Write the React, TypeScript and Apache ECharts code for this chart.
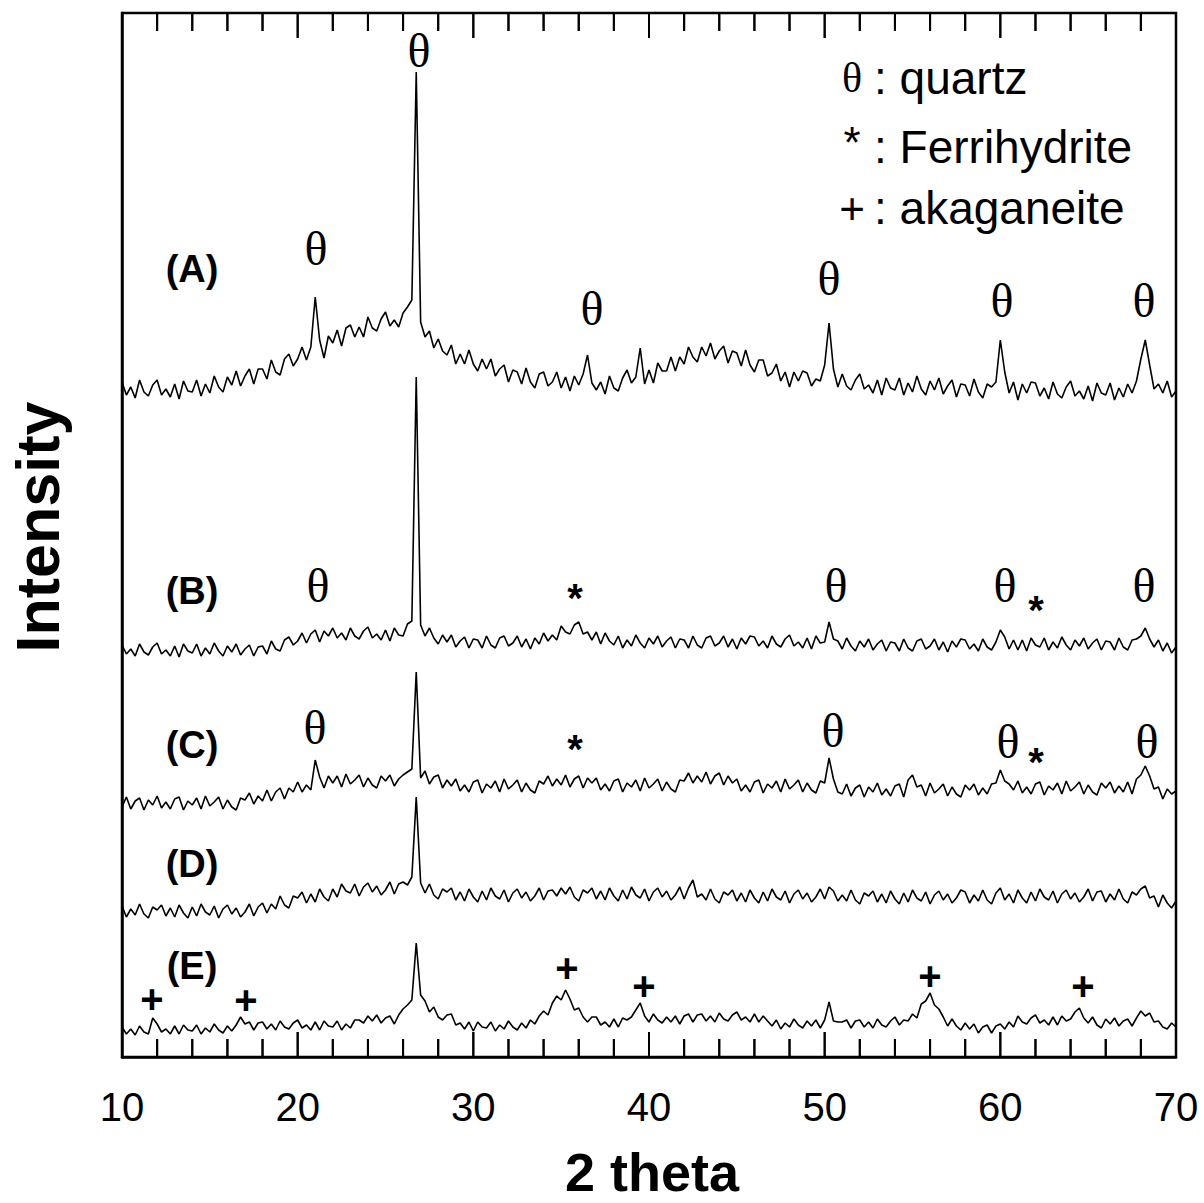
import React, { useEffect, useRef } from "react";
import * as echarts from "echarts";

// 2-theta grid: 10.00 .. 70.00 in 0.25 degree steps (241 points)
const X_START = 10;
const X_STEP = 0.25;

const traceA = [
  675, 662, 670, 659, 677, 665, 661, 672, 677, 662, 668, 660, 673, 658, 676, 666,
  665, 677, 661, 673, 664, 681, 670, 665, 680, 672, 686, 671, 681, 688, 673, 688,
  688, 678, 697, 685, 682, 698, 703, 691, 698, 710, 697, 710, 760, 717, 699, 721,
  714, 727, 711, 729, 732, 720, 730, 720, 740, 729, 726, 738, 745, 731, 737, 730,
  744, 750, 757, 985, 735, 720, 726, 709, 718, 706, 702, 712, 693, 703, 693, 707,
  693, 686, 698, 688, 698, 681, 688, 692, 675, 687, 685, 673, 689, 675, 669, 683,
  685, 671, 675, 685, 669, 680, 666, 681, 672, 683, 702, 674, 667, 675, 663, 681,
  669, 666, 679, 687, 674, 680, 709, 673, 687, 674, 694, 686, 686, 700, 686, 700,
  693, 710, 700, 695, 710, 701, 714, 698, 706, 711, 694, 706, 704, 691, 707, 692,
  685, 697, 697, 681, 684, 693, 676, 685, 670, 685, 676, 686, 684, 671, 678, 676,
  692, 734, 688, 670, 683, 671, 667, 677, 683, 668, 672, 664, 677, 662, 679, 669,
  667, 679, 662, 674, 665, 681, 668, 662, 676, 667, 679, 663, 671, 677, 660, 673,
  672, 661, 678, 665, 659, 673, 670, 675, 717, 685, 664, 675, 657, 673, 664, 675,
  674, 661, 669, 658, 675, 663, 659, 670, 676, 661, 666, 658, 671, 656, 674, 664,
  662, 674, 657, 669, 660, 673, 664, 676, 698, 717, 692, 668, 673, 664, 676, 660,
  666,
];

const traceB = [
  412, 403, 408, 401, 413, 405, 402, 410, 414, 403, 407, 401, 411, 400, 413, 406,
  404, 413, 401, 409, 403, 414, 406, 401, 411, 405, 413, 402, 408, 412, 401, 410,
  411, 403, 416, 408, 406, 417, 420, 412, 416, 424, 414, 423, 427, 415, 426, 421,
  429, 419, 424, 417, 429, 421, 418, 426, 430, 419, 423, 417, 427, 416, 429, 422,
  421, 433, 436, 680, 432, 421, 429, 419, 413, 422, 415, 422, 410, 416, 420, 409,
  418, 417, 409, 421, 412, 409, 419, 421, 411, 414, 421, 410, 418, 408, 419, 413,
  424, 416, 422, 417, 431, 425, 423, 432, 435, 423, 425, 417, 425, 413, 424, 416,
  412, 421, 409, 417, 411, 422, 414, 409, 419, 413, 421, 410, 416, 420, 409, 418,
  417, 409, 421, 412, 409, 419, 421, 411, 414, 421, 410, 418, 408, 419, 413, 421,
  420, 411, 416, 409, 421, 413, 410, 418, 422, 411, 415, 409, 419, 408, 421, 414,
  415, 435, 418, 416, 408, 419, 411, 406, 416, 410, 418, 407, 413, 417, 406, 415,
  414, 406, 418, 409, 406, 416, 418, 408, 411, 418, 407, 415, 405, 416, 410, 418,
  417, 408, 413, 406, 418, 410, 407, 415, 427, 420, 408, 417, 407, 417, 406, 419,
  412, 410, 419, 407, 415, 409, 420, 412, 407, 417, 411, 419, 408, 414, 418, 407,
  416, 415, 407, 419, 410, 407, 417, 418, 421, 429, 418, 410, 417, 406, 414, 404,
  410,
];

const traceC = [
  250, 260, 248, 256, 259, 247, 257, 252, 261, 249, 255, 248, 258, 260, 247, 256,
  252, 259, 248, 261, 251, 255, 260, 248, 257, 250, 247, 259, 257, 264, 253, 261,
  256, 267, 256, 265, 269, 258, 269, 265, 275, 265, 272, 267, 297, 280, 269, 281,
  274, 281, 270, 283, 273, 277, 282, 270, 279, 272, 269, 281, 276, 282, 271, 278,
  282, 285, 288, 385, 279, 286, 273, 280, 282, 269, 277, 271, 278, 266, 272, 265,
  275, 277, 264, 273, 269, 276, 265, 278, 268, 272, 277, 265, 274, 267, 264, 276,
  273, 281, 271, 278, 272, 282, 270, 278, 281, 269, 279, 274, 279, 267, 273, 266,
  276, 278, 265, 274, 270, 277, 266, 279, 269, 273, 278, 266, 275, 268, 265, 277,
  276, 284, 274, 281, 275, 285, 273, 281, 284, 272, 281, 274, 278, 266, 272, 265,
  275, 277, 264, 273, 269, 276, 265, 278, 268, 272, 277, 265, 274, 267, 264, 276,
  274, 299, 278, 265, 263, 273, 261, 269, 272, 260, 270, 265, 274, 262, 268, 261,
  271, 273, 260, 277, 282, 270, 272, 261, 274, 264, 268, 273, 261, 270, 263, 260,
  272, 267, 273, 262, 269, 263, 273, 274, 287, 276, 273, 267, 276, 264, 270, 263,
  273, 275, 262, 271, 267, 274, 263, 276, 266, 270, 275, 263, 272, 265, 262, 274,
  269, 275, 264, 271, 265, 275, 263, 278, 282, 291, 281, 268, 270, 258, 268, 263,
  266,
];

const traceD = [
  151, 140, 148, 142, 153, 143, 139, 150, 147, 152, 141, 149, 140, 152, 144, 139,
  150, 141, 153, 145, 142, 151, 139, 148, 152, 143, 149, 140, 145, 153, 141, 150,
  154, 144, 153, 148, 161, 152, 149, 161, 159, 165, 154, 163, 155, 168, 160, 156,
  168, 160, 173, 166, 164, 173, 161, 170, 174, 165, 171, 162, 167, 175, 163, 173,
  175, 172, 180, 260, 174, 164, 173, 162, 158, 168, 165, 169, 157, 165, 156, 168,
  160, 155, 166, 157, 169, 161, 158, 167, 155, 164, 168, 159, 165, 156, 161, 169,
  157, 166, 167, 161, 169, 163, 170, 160, 156, 167, 164, 169, 158, 166, 157, 169,
  161, 156, 167, 158, 170, 162, 159, 168, 156, 165, 169, 160, 166, 157, 162, 170,
  158, 169, 177, 160, 163, 157, 168, 158, 154, 165, 162, 167, 156, 164, 155, 167,
  159, 154, 165, 156, 168, 160, 157, 166, 154, 163, 167, 158, 164, 155, 160, 168,
  158, 170, 166, 156, 162, 156, 167, 157, 153, 164, 161, 166, 155, 163, 154, 166,
  158, 153, 164, 155, 167, 159, 156, 165, 153, 162, 166, 157, 163, 154, 159, 167,
  165, 154, 162, 156, 167, 157, 153, 164, 169, 157, 163, 154, 167, 159, 154, 165,
  156, 168, 160, 157, 166, 154, 163, 167, 158, 164, 155, 160, 168, 156, 165, 166,
  155, 163, 157, 168, 158, 154, 165, 162, 168, 171, 159, 161, 150, 162, 154, 149,
  156,
];

const traceE = [
  30, 23, 28, 22, 31, 25, 23, 39, 33, 25, 28, 23, 31, 23, 32, 27,
  26, 32, 23, 29, 25, 33, 27, 24, 31, 26, 32, 40, 33, 35, 27, 34,
  35, 28, 33, 27, 36, 30, 28, 34, 37, 29, 32, 27, 35, 27, 36, 31,
  30, 36, 27, 33, 29, 37, 37, 34, 41, 36, 42, 34, 39, 41, 33, 42,
  48, 52, 57, 114, 62, 56, 45, 50, 40, 37, 42, 43, 32, 34, 28, 35,
  26, 35, 30, 29, 35, 26, 32, 28, 36, 30, 27, 34, 29, 37, 33, 41,
  46, 42, 54, 61, 57, 67, 58, 47, 49, 40, 35, 40, 40, 32, 35, 30,
  38, 30, 39, 37, 40, 47, 54, 41, 35, 43, 37, 34, 40, 35, 41, 33,
  41, 43, 35, 42, 43, 36, 41, 35, 44, 38, 36, 42, 45, 37, 40, 35,
  43, 35, 41, 36, 31, 37, 28, 34, 30, 38, 32, 29, 36, 31, 37, 29,
  37, 55, 36, 35, 35, 37, 29, 36, 37, 30, 35, 29, 38, 32, 30, 36,
  40, 32, 37, 36, 43, 39, 53, 56, 64, 52, 48, 40, 31, 38, 31, 27,
  34, 28, 33, 24, 30, 32, 24, 31, 33, 28, 35, 30, 41, 35, 33, 39,
  42, 34, 37, 32, 40, 32, 41, 36, 38, 45, 49, 39, 34, 40, 32, 29,
  38, 33, 39, 31, 36, 38, 31, 39, 46, 41, 44, 35, 36, 30, 28, 34,
  30,
];

const xTicks = [10, 20, 30, 40, 50, 60, 70];
const xMinorTicks = [
  12, 14, 16, 18, 22, 24, 26, 28, 32, 34, 36, 38, 42, 44, 46, 48, 52, 54, 56, 58, 62, 64, 66, 68,
];

// y axis in intensity units
const Y_MIN = 0;
const Y_MAX = 1044;
const MAJOR_TICK_LEN = 25;
const MINOR_TICK_LEN = 18;

const SANS = "'Liberation Sans', Arial, Helvetica, sans-serif";
const SERIF = "'Liberation Serif', 'Times New Roman', serif";

// text annotations: [text, x px, y px, kind]
const peakLabels: [string, number, number, string][] = [
  ["θ", 419, 50, "theta"],
  ["θ", 316, 248, "theta"],
  ["θ", 592, 308, "theta"],
  ["θ", 829, 278, "theta"],
  ["θ", 1002, 300, "theta"],
  ["θ", 1144, 300, "theta"],
  ["θ", 318, 585, "theta"],
  ["θ", 836, 585, "theta"],
  ["θ", 1005, 585, "theta"],
  ["θ", 1144, 585, "theta"],
  ["*", 575, 589, "star"],
  ["*", 1036, 601, "star"],
  ["θ", 315, 727, "theta"],
  ["θ", 833, 730, "theta"],
  ["θ", 1008, 741, "theta"],
  ["θ", 1147, 741, "theta"],
  ["*", 575, 740, "star"],
  ["*", 1036, 753, "star"],
  ["+", 152, 999, "plus"],
  ["+", 246, 1000, "plus"],
  ["+", 567, 968, "plus"],
  ["+", 644, 986, "plus"],
  ["+", 930, 976, "plus"],
  ["+", 1083, 986, "plus"],
];

const sampleLabels: [string, number][] = [
  ["(A)", 269],
  ["(B)", 591],
  ["(C)", 745],
  ["(D)", 864],
  ["(E)", 966],
];

function toPairs(vals: number[]) {
  return vals.map((v, i) => [X_START + i * X_STEP, v]);
}

function tickSegments() {
  const out: any[] = [];
  const add = (v: number, len: number) => {
    out.push([v, Y_MIN], [v, Y_MIN + len], [v, "-"]);
  };
  xTicks.forEach((v) => add(v, MAJOR_TICK_LEN));
  xMinorTicks.forEach((v) => add(v, MINOR_TICK_LEN));
  return out;
}

function topTickSegments() {
  const out: any[] = [];
  const add = (v: number, len: number) => {
    out.push([v, Y_MAX], [v, Y_MAX - len], [v, "-"]);
  };
  xTicks.forEach((v) => add(v, MAJOR_TICK_LEN));
  xMinorTicks.forEach((v) => add(v, MINOR_TICK_LEN));
  return out;
}

export default function App() {
  const ref = useRef<HTMLDivElement>(null);

  useEffect(() => {
    if (!ref.current) return;
    const chart = echarts.init(ref.current, undefined, { renderer: "svg" });

    const traces = [traceA, traceB, traceC, traceD, traceE];
    const series: any[] = [
      {
        type: "line",
        data: tickSegments(),
        showSymbol: false,
        connectNulls: false,
        lineStyle: { color: "#000", width: 2 },
      },
      {
        type: "line",
        data: topTickSegments(),
        showSymbol: false,
        connectNulls: false,
        lineStyle: { color: "#000", width: 2 },
      },
    ];
    traces.forEach((t) =>
      series.push({
        type: "line",
        data: toPairs(t),
        showSymbol: false,
        lineStyle: { color: "#000", width: 1.6 },
      })
    );

    chart.setOption({
      animation: false,
      backgroundColor: "#fff",
      grid: {
        left: 122,
        right: 28,
        top: 13,
        bottom: 146,
        show: true,
        borderColor: "#000",
        borderWidth: 2.5,
      },
      xAxis: {
        type: "value",
        min: 10,
        max: 70,
        interval: 10,
        axisTick: { show: false },
        splitLine: { show: false },
        axisLine: { show: true, onZero: false, lineStyle: { color: "#000", width: 2.5 } },
        axisLabel: {
          show: true,
          margin: 30,
          color: "#000",
          fontFamily: SANS,
          fontSize: 40,
        },
      },
      yAxis: {
        type: "value",
        min: Y_MIN,
        max: Y_MAX,
        axisLine: { show: true, onZero: false, lineStyle: { color: "#000", width: 2.5 } },
        axisTick: { show: false },
        axisLabel: { show: false },
        splitLine: { show: false },
      },
      series,
    });

    // Additional tick lines added straight onto the zrender layer, positioned by the axis scale
    const zr = chart.getZr();
    const addTick = (v: number, len: number) => {
      const b = chart.convertToPixel({ gridIndex: 0 }, [v, Y_MIN]) as number[];
      const t = chart.convertToPixel({ gridIndex: 0 }, [v, Y_MAX]) as number[];
      if (!b || !t) return;
      zr.add(
        new (echarts.graphic as any).Line({
          shape: { x1: b[0], y1: b[1], x2: b[0], y2: b[1] - len },
          style: { stroke: "#000", lineWidth: 2 },
          z: 100,
        })
      );
      zr.add(
        new (echarts.graphic as any).Line({
          shape: { x1: t[0], y1: t[1], x2: t[0], y2: t[1] + len },
          style: { stroke: "#000", lineWidth: 2 },
          z: 100,
        })
      );
    };
    xTicks.forEach((v) => addTick(v, MAJOR_TICK_LEN));
    xMinorTicks.forEach((v) => addTick(v, MINOR_TICK_LEN));

    const graphic: any[] = [];
    peakLabels.forEach(([t, x, y, kind]) => {
      const style: any = {
        text: t,
        fill: "#000",
        align: "center",
        verticalAlign: "middle",
      };
      if (kind === "theta") {
        style.fontFamily = SERIF;
        style.fontSize = 48;
      } else if (kind === "star") {
        style.fontFamily = SANS;
        style.fontSize = 40;
        style.fontWeight = "bold";
        y = y + 9;
      } else {
        style.fontFamily = SANS;
        style.fontSize = 40;
        style.fontWeight = "bold";
      }
      graphic.push({ type: "text", x, y, style, z: 10 });
    });
    sampleLabels.forEach(([t, y]) => {
      graphic.push({
        type: "text",
        x: 192,
        y,
        z: 10,
        style: {
          text: t,
          fill: "#000",
          fontFamily: SANS,
          fontSize: 38,
          fontWeight: "bold",
          align: "center",
          verticalAlign: "middle",
        },
      });
    });
    // legend block
    const legendRows: [string, string, number, number, string][] = [
      ["θ", ": quartz", 78, 78, SERIF],
      ["*", ": Ferrihydrite", 142, 147, SANS],
      ["+", ": akaganeite", 208, 208, SANS],
    ];
    legendRows.forEach(([sym, label, ySym, yLab, fam]) => {
      graphic.push({
        type: "text",
        x: 852,
        y: ySym,
        z: 10,
        style: {
          text: sym,
          fill: "#000",
          fontFamily: fam,
          fontSize: fam === SERIF ? 42 : 44,
          align: "center",
          verticalAlign: "middle",
        },
      });
      graphic.push({
        type: "text",
        x: 874,
        y: yLab,
        z: 10,
        style: {
          text: label,
          fill: "#000",
          fontFamily: SANS,
          fontSize: 46,
          align: "left",
          verticalAlign: "middle",
        },
      });
    });
    // axis titles
    graphic.push({
      type: "text",
      x: 652,
      y: 1172,
      z: 10,
      style: {
        text: "2 theta",
        fill: "#000",
        fontFamily: SANS,
        fontSize: 54,
        fontWeight: "bold",
        align: "center",
        verticalAlign: "middle",
      },
    });
    graphic.push({
      type: "text",
      x: 38,
      y: 527,
      rotation: Math.PI / 2,
      z: 10,
      style: {
        text: "Intensity",
        fill: "#000",
        fontFamily: SANS,
        fontSize: 61,
        fontWeight: "bold",
        align: "center",
        verticalAlign: "middle",
      },
    });

    chart.setOption({ graphic });

    return () => chart.dispose();
  }, []);

  return (
    <div
      ref={ref}
      style={{ position: "absolute", left: 0, top: 0, width: 1204, height: 1203, background: "#fff" }}
    />
  );
}
